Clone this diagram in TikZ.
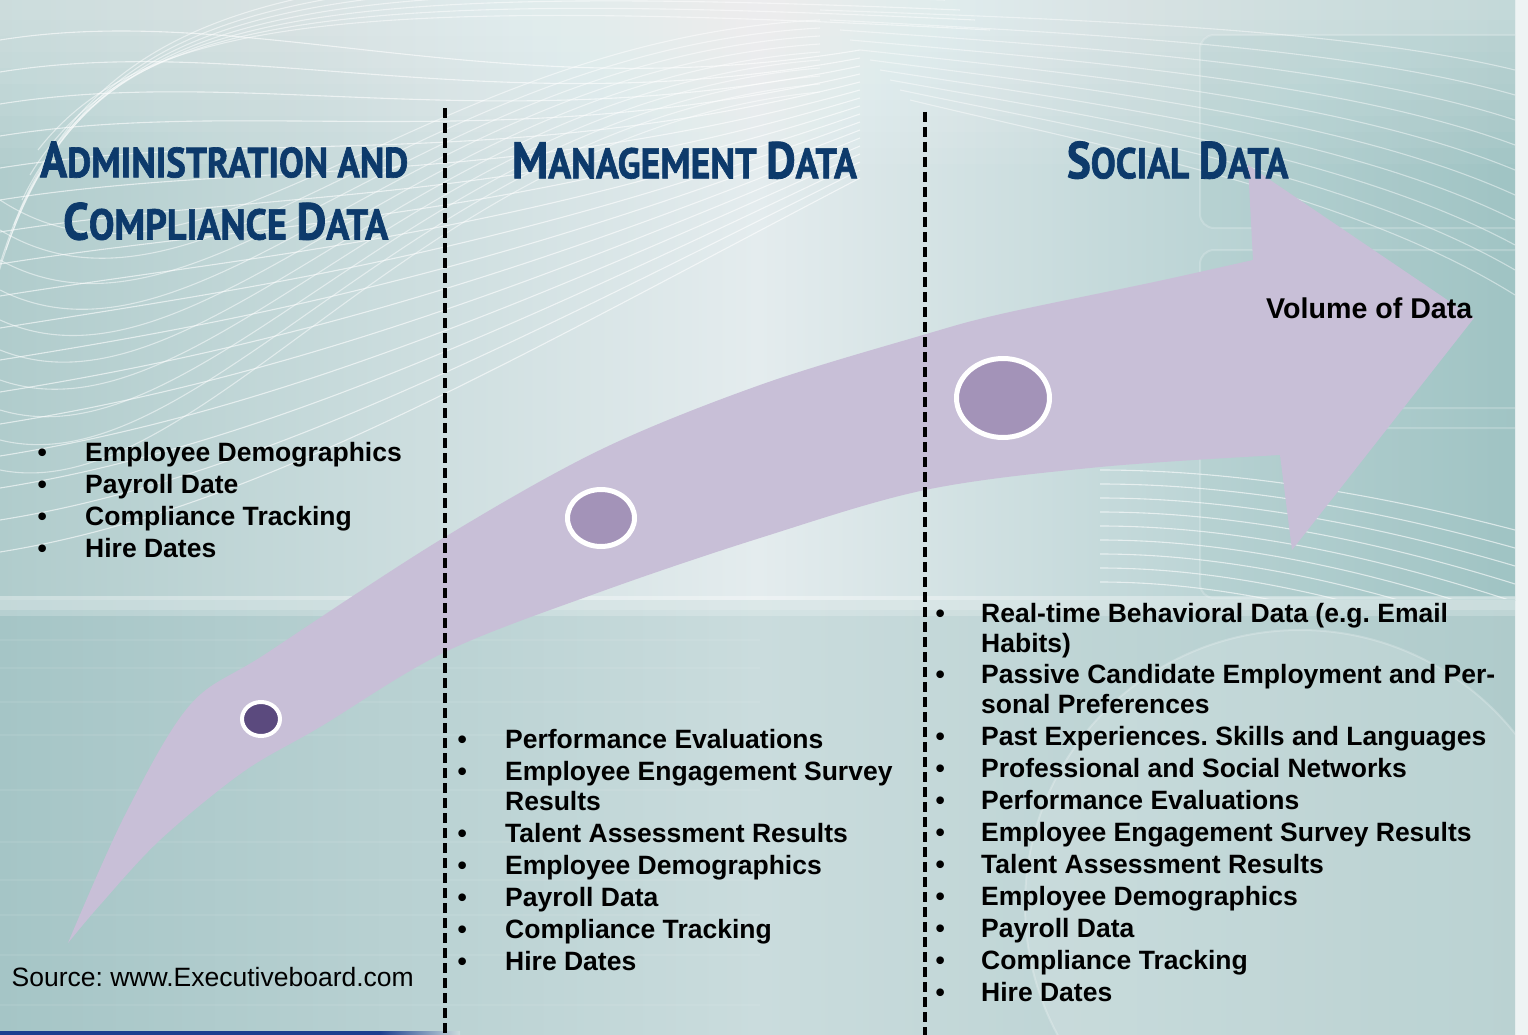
\documentclass[tikz,border=0pt]{standalone}
\usepackage{fontspec}
\usepackage{graphicx}
\setmainfont{Liberation Sans}
\newfontfamily\titlefont{PT Sans}[BoldFeatures={FakeBold=1.6}]
\usetikzlibrary{shapes.geometric}
\frenchspacing
\definecolor{tealL}{HTML}{B0CCCC}
\definecolor{paleM}{HTML}{E4ECEE}
\definecolor{tealR}{HTML}{A0C4C4}
\definecolor{botL}{HTML}{A5C5C6}
\definecolor{botM}{HTML}{CADCDD}
\definecolor{botR}{HTML}{AFCBCB}
\definecolor{edgeR}{HTML}{EEF4F4}
\definecolor{arrowfill}{HTML}{C8BFD7}
\definecolor{dotdark}{HTML}{5B4A7E}
\definecolor{dotmid}{HTML}{A393B8}
\definecolor{titleblue}{HTML}{0D3A6B}
\definecolor{navyline}{HTML}{1C3F8F}
\newcommand{\TBig}[1]{{\fontsize{50}{50}\selectfont #1}}
\newcommand{\TLine}[3]{\resizebox{#1}{#2}{\titlefont\bfseries\fontsize{41.5}{50}\selectfont #3}}
\tikzset{
  wave/.style={white, line width=1.1pt, opacity=0.6},
  divider/.style={black, line width=4pt, dash pattern=on 10pt off 5pt},
  ttl/.style={anchor=base west, inner sep=0pt, text=titleblue},
  itm/.style={anchor=base west, inner sep=0pt, font=\bfseries\fontsize{26.5pt}{30pt}\selectfont},
  blt/.style={anchor=base west, inner sep=0pt, font=\bfseries\fontsize{26.5pt}{30pt}\selectfont},
  ring/.style={ellipse, draw=white, inner sep=0pt},
}
\begin{document}
\begin{tikzpicture}[x=1pt,y=-1pt]
\useasboundingbox (0,0) rectangle (1528,1035);
% ---------- background ----------
\fill[edgeR] (1515,0) rectangle (1528,1035);
\begin{scope}
\clip (0,0) rectangle (1515,1035);
\shade[left color=tealL, right color=tealR, middle color=paleM] (0,0) rectangle (1515,600);
\foreach \k in {0,...,9} \fill[white, opacity=0.05] (0,0) rectangle (1515,{20+16*\k});
% right panels
\foreach \a/\b in {35/228, 250/408, 428/598}
  \draw[rounded corners=14pt, fill=tealR, fill opacity=0.18, draw=white, draw opacity=0.2, line width=2pt] (1200,\a) rectangle (1530,\b);
\begin{scope}
\clip (0,0) rectangle (1515,598);
\foreach \i in {0,...,16}
  \draw[wave] (0,{40+32*\i}) .. controls (250,{32*\i}) and (500,{110+16*\i}) .. (860,{50+8*\i});
\foreach \i in {0,...,9}
  \draw[wave, opacity=0.5] (0,{200+30*\i}) .. controls (200,{330+20*\i}) and (420,{40+10*\i}) .. (820,{20+8*\i});
\foreach \i in {0,...,6}
  \draw[wave, opacity=0.5] ({-10+8*\i},{300-25*\i}) .. controls ({70+12*\i},{-20+6*\i}) and ({300+10*\i},{-40+6*\i}) .. ({900+15*\i},{-30+10*\i});
\foreach \i in {0,...,9}
  \draw[wave, opacity=0.45] ({820+10*\i},{10+10*\i}) .. controls (1100,{20+14*\i}) and (1350,{30+18*\i}) .. (1515,{70+25*\i});
\foreach \i in {0,...,8}
  \draw[wave] (1100,{470+14*\i}) .. controls (1250,{470+14*\i}) and (1400,{500+16*\i}) .. (1515,{530+18*\i});
\end{scope}
\shade[left color=botL, right color=botR, middle color=botM] (0,600) rectangle (1515,1035);
\fill[white, opacity=0.35] (0,596) rectangle (1515,610);
\fill[white, opacity=0.2] (0,610) rectangle (1515,616);
\foreach \y in {640,668,702,735,790,842,880,915,955,1005}
  \draw[white, opacity=0.07, line width=2pt] (0,\y) -- (760,\y);
% globe
\fill[white, opacity=0.14] (1300,905) circle (275);
\draw[white, opacity=0.22, line width=2pt] (1300,905) circle (275);
% bottom line
\fill[navyline] (0,1031) rectangle (380,1035);
\shade[left color=navyline, right color=botM] (380,1031) rectangle (460,1035);
\end{scope}
% ---------- arrow ----------
\fill[arrowfill] plot[smooth, tension=0.55] coordinates {(68,943) (125,815) (190,705) (267,653) (440,540) (600,450) (760,385) (923,335) (1001,314) (1154,282) (1253,260)}
  -- (1248,165) -- (1474,318) -- (1292,550) -- (1280,455)
  -- plot[smooth, tension=0.55] coordinates {(1280,455) (1100,467) (925,490) (760,538) (600,592) (445,652) (320,727) (243,772) (160,840) (100,905) (68,943)}
  -- cycle;
% ---------- dots ----------
\node[ring, line width=4pt, fill=dotdark, minimum width=38pt, minimum height=34pt] (c1) at (261,719) {};
\node[ring, line width=5pt, fill=dotmid, minimum width=67pt, minimum height=57pt] (c2) at (601,518) {};
\node[ring, line width=5pt, fill=dotmid, minimum width=93pt, minimum height=79pt] (c3) at (1003,398) {};
% ---------- dividers ----------
\coordinate (d1t) at (445,108);
\coordinate (d1b) at (445,1040);
\coordinate (d2t) at (925,112);
\coordinate (d2b) at (925,1040);
\draw[divider] (d1t) -- (d1b);
\draw[divider] (d2t) -- (d2b);
% ---------- titles ----------
\node[ttl] (t1a) at (40,177.3) {\TLine{368pt}{35.8pt}{\TBig{A}DMINISTRATION AND}};
\node[ttl] (t1b) at (63,239.5) {\TLine{325pt}{37pt}{\TBig{C}OMPLIANCE \TBig{D}ATA}};
\node[ttl] (t2) at (511.7,178.3) {\TLine{345pt}{36.6pt}{\TBig{M}ANAGEMENT \TBig{D}ATA}};
\node[ttl] (t3) at (1066.7,178.3) {\TLine{221.5pt}{37pt}{\TBig{S}OCIAL \TBig{D}ATA}};
% ---------- volume label ----------
\node[itm, font=\bfseries\fontsize{28.6pt}{32pt}\selectfont] (vol) at (1266,318) {Volume of Data};
% ---------- left list ----------
\node[blt] (lb1) at (37.4,461.5) {•};
\node[itm] (l1) at (85,461.5) {Employee Demographics};
\node[blt] (lb2) at (37.4,493.5) {•};
\node[itm] (l2) at (85,493.5) {Payroll Date};
\node[blt] (lb3) at (37.4,525.5) {•};
\node[itm] (l3) at (85,525.5) {Compliance Tracking};
\node[blt] (lb4) at (37.4,557.5) {•};
\node[itm] (l4) at (85,557.5) {Hire Dates};
% ---------- middle list ----------
\node[blt] (mb1) at (457.4,748) {•};
\node[itm] (m1) at (505,748) {Performance Evaluations};
\node[blt] (mb2) at (457.4,780) {•};
\node[itm] (m2) at (505,780) {Employee Engagement Survey};
\node[itm] (m2b) at (505,810) {Results};
\node[blt] (mb3) at (457.4,842) {•};
\node[itm] (m3) at (505,842) {Talent Assessment Results};
\node[blt] (mb4) at (457.4,874) {•};
\node[itm] (m4) at (505,874) {Employee Demographics};
\node[blt] (mb5) at (457.4,906) {•};
\node[itm] (m5) at (505,906) {Payroll Data};
\node[blt] (mb6) at (457.4,938) {•};
\node[itm] (m6) at (505,938) {Compliance Tracking};
\node[blt] (mb7) at (457.4,970) {•};
\node[itm] (m7) at (505,970) {Hire Dates};
% ---------- right list ----------
\node[blt] (rb1) at (935.4,622.5) {•};
\node[itm] (r1) at (981,622.5) {Real-time Behavioral Data (e.g. Email};
\node[itm] (r1b) at (981,652.5) {Habits)};
\node[blt] (rb2) at (935.4,683.5) {•};
\node[itm] (r2) at (981,683.5) {Passive Candidate Employment and Per-};
\node[itm] (r2b) at (981,713.5) {sonal Preferences};
\node[blt] (rb3) at (935.4,745.5) {•};
\node[itm] (r3) at (981,745.5) {Past Experiences. Skills and Languages};
\node[blt] (rb4) at (935.4,777.5) {•};
\node[itm] (r4) at (981,777.5) {Professional and Social Networks};
\node[blt] (rb5) at (935.4,809.5) {•};
\node[itm] (r5) at (981,809.5) {Performance Evaluations};
\node[blt] (rb6) at (935.4,841.5) {•};
\node[itm] (r6) at (981,841.5) {Employee Engagement Survey Results};
\node[blt] (rb7) at (935.4,873.5) {•};
\node[itm] (r7) at (981,873.5) {Talent Assessment Results};
\node[blt] (rb8) at (935.4,905.5) {•};
\node[itm] (r8) at (981,905.5) {Employee Demographics};
\node[blt] (rb9) at (935.4,937.5) {•};
\node[itm] (r9) at (981,937.5) {Payroll Data};
\node[blt] (rb10) at (935.4,969.5) {•};
\node[itm] (r10) at (981,969.5) {Compliance Tracking};
\node[blt] (rb11) at (935.4,1001.5) {•};
\node[itm] (r11) at (981,1001.5) {Hire Dates};
% ---------- source ----------
\node[anchor=base west, inner sep=0pt, font=\fontsize{26.5pt}{30pt}\selectfont] (src) at (11.5,986) {Source: www.Executiveboard.com};
\end{tikzpicture}
\end{document}
